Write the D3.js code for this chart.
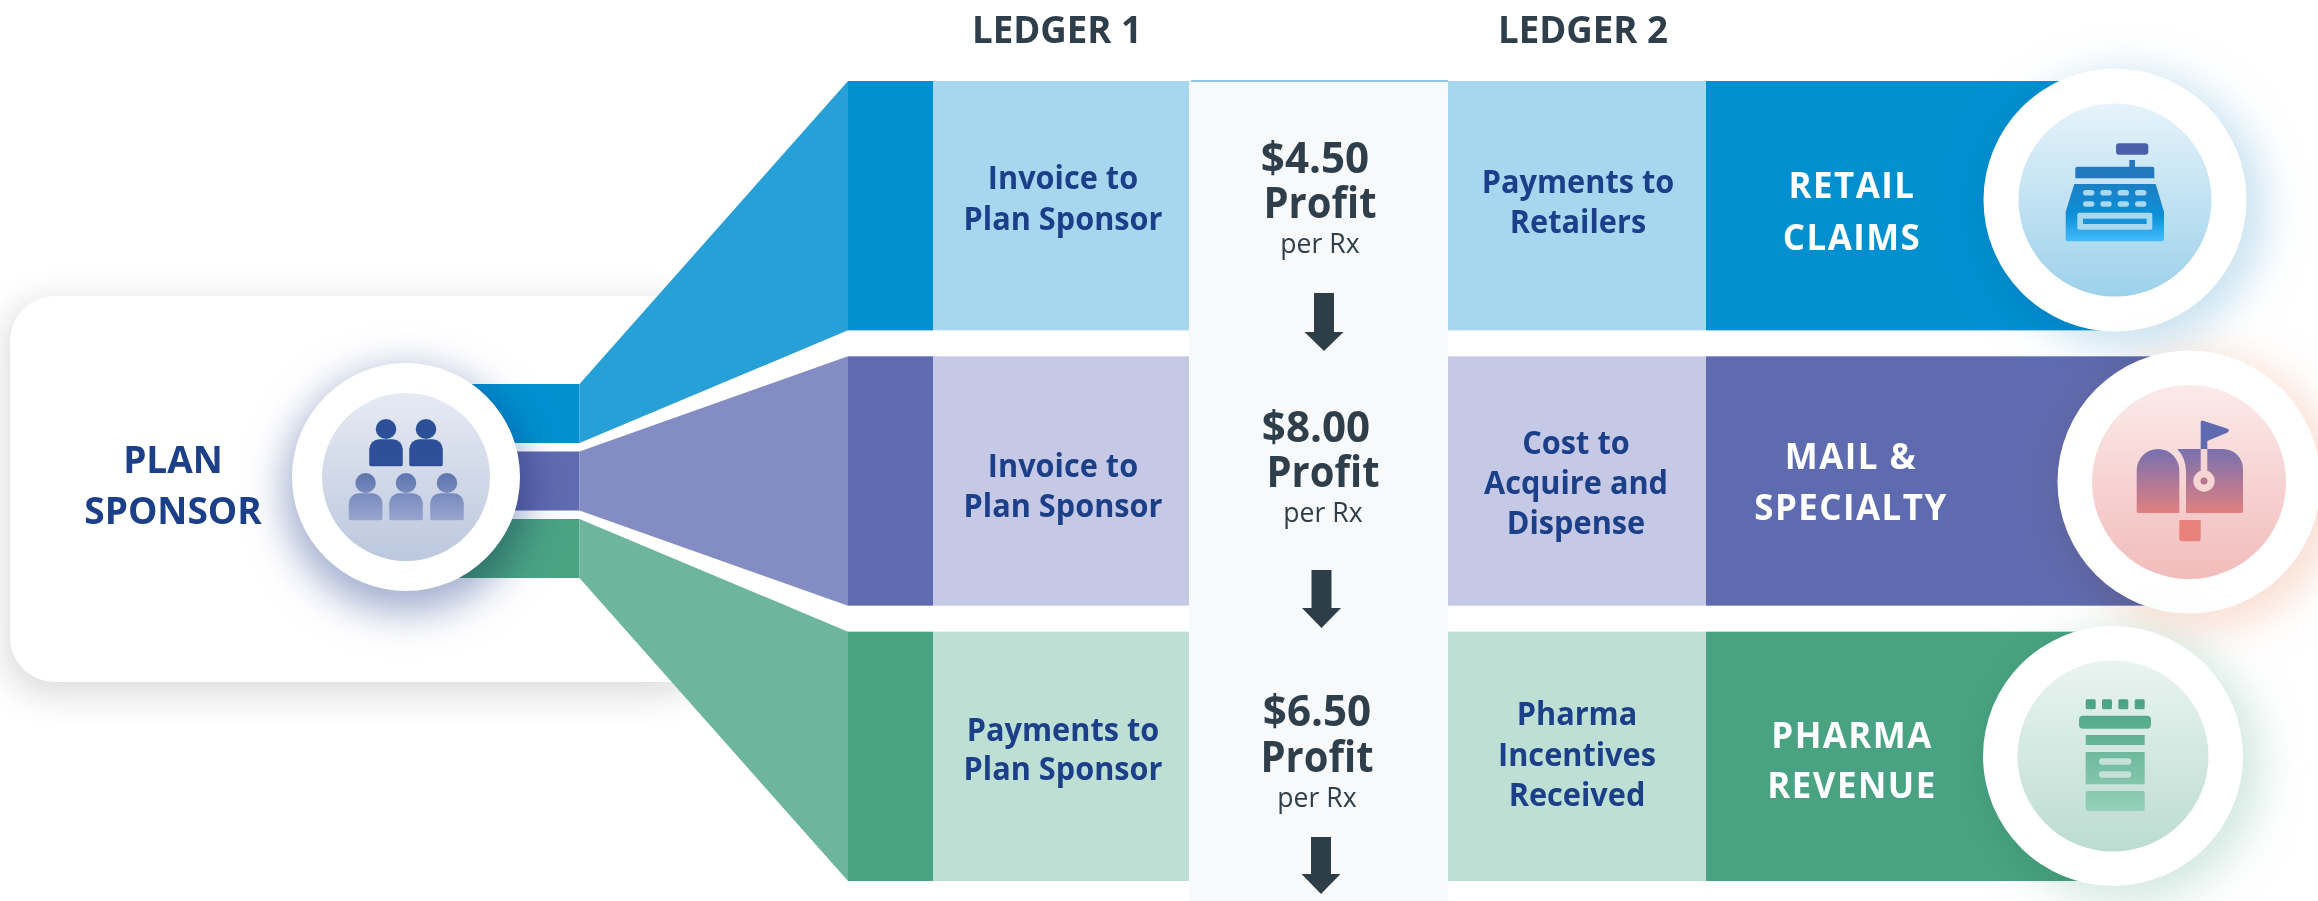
<!DOCTYPE html>
<html>
<head>
<meta charset="utf-8">
<script src="https://cdn.jsdelivr.net/npm/d3@7"></script>
<style>
  html, body { margin: 0; padding: 0; background: #fff; overflow: hidden; }
  svg { display: block; }
  text { font-family: "Open Sans", sans-serif; text-anchor: middle; }
  .head { font-size: 37px; font-weight: 700; fill: #2e3e4a; }
  .cell { font-size: 33px; font-weight: 700; fill: #1c3f8a; }
  .big { font-size: 43px; font-weight: 700; fill: #2e3e4a; }
  .small { font-size: 28px; font-weight: 400; fill: #2e3e4a; }
  .claim { font-size: 36px; font-weight: 700; fill: #fff; letter-spacing: 1.5px; }
  .sponsor { font-size: 37px; font-weight: 700; fill: #1c3f8a; }
  .glow { mix-blend-mode: multiply; }
</style>
</head>
<body>
<div id="chart"></div>
<script>
const rows = ["retail", "mail", "pharma"];
const headers = ["LEDGER 1", "LEDGER 2"];
const sponsorLabel = ["PLAN", "SPONSOR"];
const ledger1 = [
    ["Invoice to", "Plan Sponsor"],
    ["Invoice to", "Plan Sponsor"],
    ["Payments to", "Plan Sponsor"]
];
const ledger2 = [
    ["Payments to", "Retailers"],
    ["Cost to", "Acquire and", "Dispense"],
    ["Pharma", "Incentives", "Received"]
];
const claims = [
    ["RETAIL", "CLAIMS"],
    ["MAIL &", "SPECIALTY"],
    ["PHARMA", "REVENUE"]
];
const profit = [4.5, 8, 6.5];

const darkColors = ["#0090d0", "#5f6bb0", "#49a383"];
const lightColors = ["#a6d7ef", "#c5c9e5", "#bddfd4"];
const fanColors = ["#279fd7", "#838cc3", "#6db59c"];
const shadowColors = ["#b5d8ec", "#f8d3c2", "#c2e0d5"];
const discColors = [["#e6f3fa", "#9dd1eb"], ["#fbeaea", "#f2bcbb"], ["#e9f4f0", "#bcdcd1"]];

const width = 2318;
const height = 901;

// x edges of the ledger columns
const x = { fan: 579.5, dark: 848, light: 933, col: 1189, right: 1448, claim: 1706 };
const discs = [
    { cx: 2115, cy: 200, r: 131.5, inner: 96.5 },
    { cx: 2189, cy: 482, r: 131.5, inner: 97 },
    { cx: 2113, cy: 756, r: 130, inner: 95.5 }
];
const sponsorDisc = { cx: 406, cy: 477, r: 114, inner: 84 };

// baselines per row
const ledger1Pos = [{ x: 1063, y: [189, 230] }, { x: 1063, y: [477, 517] }, { x: 1063, y: [741, 780] }];
const ledger2Pos = [{ x: 1578, y: [193, 233] }, { x: 1576, y: [454, 494, 534] }, { x: 1577, y: [725, 766, 806] }];
const claimPos = [{ x: 1852, y: [198, 250] }, { x: 1851, y: [469, 520] }, { x: 1852, y: [748, 798] }];
const profitPos = [
    { x: 1315, px: 1320, y: [173, 218, 253], arrow: { x: 1324, top: 293, neck: 332, tip: 351 } },
    { x: 1316, px: 1323, y: [442, 487, 522], arrow: { x: 1321.5, top: 570, neck: 608, tip: 628 } },
    { x: 1317, px: 1317, y: [726, 772, 807], arrow: { x: 1321, top: 837, neck: 874, tip: 894 } }
];

const yBand = d3.scaleBand().domain(rows).range([81, 881]).paddingInner(0.0944);
const yStub = d3.scaleBand().domain(rows).range([384, 578]).paddingInner(0.126);
const polygon = d3.line().curve(d3.curveLinearClosed);

const svg = d3.select("#chart").append("svg").attr("width", width).attr("height", height);
const defs = svg.append("defs");

function addBlur(id, sd) {
    defs.append("filter").attr("id", id)
        .attr("x", "-40%").attr("y", "-40%").attr("width", "180%").attr("height", "180%")
        .append("feGaussianBlur").attr("stdDeviation", sd);
}
addBlur("panelBlur", 17);
addBlur("discBlur", 19);

function addGradient(id, y1, y2, stops) {
    const g = defs.append("linearGradient").attr("id", id)
        .attr("gradientUnits", "userSpaceOnUse")
        .attr("x1", 0).attr("x2", 0).attr("y1", y1).attr("y2", y2);
    stops.forEach(s => g.append("stop").attr("offset", s[0]).attr("stop-color", s[1]));
    return `url(#${id})`;
}

function addText(parent, cls, tx, ty, str, sx) {
    parent.append("text").attr("class", cls)
        .attr("transform", `translate(${tx},${ty}) scale(${sx},1)`)
        .text(str);
}

// plan sponsor panel, the white runs on under the fans so the gaps stay clean
svg.append("rect").attr("x", 4).attr("y", 300).attr("width", 700).attr("height", 396).attr("rx", 45)
    .attr("fill", "#000").attr("opacity", 0.13).attr("filter", "url(#panelBlur)");
svg.append("rect").attr("x", 10).attr("y", 296).attr("width", 790).attr("height", 386).attr("rx", 45)
    .attr("fill", "#fff");

// stubs and fans
rows.forEach((r, i) => {
    svg.append("rect").attr("x", sponsorDisc.cx).attr("y", yStub(r))
        .attr("width", x.fan - sponsorDisc.cx).attr("height", yStub.bandwidth())
        .attr("fill", darkColors[i]);
    svg.append("path").attr("fill", fanColors[i]).attr("d", polygon([
        [x.fan, yStub(r)],
        [x.dark, yBand(r)],
        [x.dark, yBand(r) + yBand.bandwidth()],
        [x.fan, yStub(r) + yStub.bandwidth()]
    ]));
});

// ledger bands
rows.forEach((r, i) => {
    const y = yBand(r), h = yBand.bandwidth();
    svg.append("rect").attr("x", x.dark).attr("y", y).attr("width", x.light - x.dark).attr("height", h).attr("fill", darkColors[i]);
    svg.append("rect").attr("x", x.light).attr("y", y).attr("width", x.col - x.light).attr("height", h).attr("fill", lightColors[i]);
    svg.append("rect").attr("x", x.right).attr("y", y).attr("width", x.claim - x.right).attr("height", h).attr("fill", lightColors[i]);
    svg.append("rect").attr("x", x.claim).attr("y", y).attr("width", discs[i].cx - x.claim).attr("height", h).attr("fill", darkColors[i]);
});

// profit column
svg.append("rect").attr("x", x.col).attr("y", 81).attr("width", x.right - x.col).attr("height", height - 81).attr("fill", "#f8f9fb");
svg.append("rect").attr("x", x.col + 2).attr("y", 80.5).attr("width", x.right - x.col - 2).attr("height", 1).attr("fill", "#2a90c8");

profit.forEach((v, i) => {
    const p = profitPos[i];
    addText(svg, "big", p.x, p.y[0], d3.format("$.2f")(v), 0.98);
    addText(svg, "big", p.px, p.y[1], "Profit", 0.93);
    addText(svg, "small", p.px, p.y[2], "per Rx", 0.95);
    const a = p.arrow;
    svg.append("path").attr("fill", "#2e3e49").attr("d", polygon([
        [a.x - 10, a.top], [a.x + 10, a.top], [a.x + 10, a.neck], [a.x + 19.5, a.neck],
        [a.x, a.tip], [a.x - 19.5, a.neck], [a.x - 10, a.neck]
    ]));
});

// headers and ledger text
addText(svg, "head", 1057, 43, headers[0], 0.99);
addText(svg, "head", 1583, 43, headers[1], 0.99);
ledger1.forEach((lines, i) => lines.forEach((t, j) => addText(svg, "cell", ledger1Pos[i].x, ledger1Pos[i].y[j], t, 0.93)));
ledger2.forEach((lines, i) => lines.forEach((t, j) => addText(svg, "cell", ledger2Pos[i].x, ledger2Pos[i].y[j], t, 0.93)));
claims.forEach((lines, i) => lines.forEach((t, j) => addText(svg, "claim", claimPos[i].x, claimPos[i].y[j], t, 0.97)));
addText(svg, "sponsor", 173, 473, sponsorLabel[0], 1);
addText(svg, "sponsor", 173, 524, sponsorLabel[1], 1);

// discs with soft shadows
function addDisc(d, shadow, opacity, dx, dy, top, bottom, id) {
    svg.append("circle").attr("class", "glow").attr("cx", d.cx + dx).attr("cy", d.cy + dy).attr("r", d.r + 8)
        .attr("fill", shadow).attr("opacity", opacity).attr("filter", "url(#discBlur)");
    svg.append("circle").attr("cx", d.cx).attr("cy", d.cy).attr("r", d.r).attr("fill", "#fff");
    svg.append("circle").attr("cx", d.cx).attr("cy", d.cy).attr("r", d.inner)
        .attr("fill", addGradient(id, d.cy - d.inner, d.cy + d.inner, [[0, top], [1, bottom]]));
}
addDisc(sponsorDisc, "#8494c0", 0.75, 0, 14, "#e6eaf3", "#bcc8de", "discSponsor");
discs.forEach((d, i) => addDisc(d, shadowColors[i], 0.7, 12, 10, discColors[i][0], discColors[i][1], "disc" + i));

// plan sponsor icon
const people = addGradient("peopleFill", 420, 521, [[0, "#2d4f98"], [0.46, "#2f5098"], [0.53, "#5f75b0"], [1, "#9aa6d0"]]);
const peopleIcon = svg.append("g").attr("fill", people);
[[386, 429], [426, 429], [365.6, 483], [406, 483], [447, 483]].forEach(c => {
    peopleIcon.append("ellipse").attr("cx", c[0]).attr("cy", c[1]).attr("rx", 10.3).attr("ry", 10);
    const bx = c[0] - 16.8, by = c[1] + 10.3;
    peopleIcon.append("path").attr("d",
        `M${bx} ${by + 10}a10 10 0 0 1 10 -10h13.6a10 10 0 0 1 10 10v15a2 2 0 0 1 -2 2h-29.6a2 2 0 0 1 -2 -2z`);
});

// cash register
const regFill = addGradient("regFill", 184, 241, [[0, "#1d7fc3"], [0.55, "#0c90d8"], [1, "#42bcfc"]]);
const reg = svg.append("g");
reg.append("rect").attr("x", 2116).attr("y", 143.3).attr("width", 32.3).attr("height", 11.4).attr("rx", 3).attr("fill", "#4a60aa");
reg.append("rect").attr("x", 2129.3).attr("y", 160).attr("width", 5.7).attr("height", 7).attr("fill", "#2a75bd");
reg.append("path").attr("fill", "#2478be").attr("d", "M2075.3 178.3V169a2.3 2.3 0 0 1 2.3 -2.3h74.4a2.3 2.3 0 0 1 2.3 2.3v9.3z");
reg.append("path").attr("fill", regFill).attr("d", "M2074.3 184H2155.7L2164 211.7V239.3a2 2 0 0 1 -2 2H2067.7a2 2 0 0 1 -2 -2V211.7z");
[192.7, 204].forEach(ky => [2088.7, 2106, 2123.3, 2140.7].forEach(kx => {
    reg.append("rect").attr("x", kx - 5.7).attr("y", ky - 2.8).attr("width", 11.4).attr("height", 5.6).attr("rx", 2.8).attr("fill", "#a9d8ef");
}));
reg.append("rect").attr("x", 2077.3).attr("y", 212.7).attr("width", 75).attr("height", 17).attr("rx", 2).attr("fill", "#a9d8ef");
reg.append("rect").attr("x", 2083).attr("y", 218.7).attr("width", 63.7).attr("height", 5.3).attr("fill", "#1594da");

// mailbox
const mailFill = addGradient("mailFill", 449, 513, [[0, "#7770b0"], [1, "#e08080"]]);
const mail = svg.append("g");
mail.append("path").attr("fill", mailFill).attr("d", "M2136.7 470.3a21.3 21.3 0 0 1 42.6 0V513H2139a2.3 2.3 0 0 1 -2.3 -2.3z");
mail.append("path").attr("fill", mailFill).attr("d", "M2177.3 449H2223a20 20 0 0 1 20 20V510.7a2.3 2.3 0 0 1 -2.3 2.3H2186V472Q2186 458 2177.3 449z");
mail.append("rect").attr("x", 2200.7).attr("y", 449).attr("width", 6.6).attr("height", 24).attr("fill", "#f6d5d3");
mail.append("path").attr("fill", "#5f6bb0").attr("d", "M2200.7 449V422.5q0 -2.5 2.5 -1.7L2227 428.5q4 2 0 4.2L2207.3 441V449z");
mail.append("circle").attr("cx", 2204).attr("cy", 481).attr("r", 10.7).attr("fill", "#f6d5d3");
mail.append("circle").attr("cx", 2204).attr("cy", 481).attr("r", 3.5).attr("fill", "#b87590");
mail.append("path").attr("fill", "#e9817b").attr("d", "M2179.3 520H2200.7V539a2.3 2.3 0 0 1 -2.3 2.3H2181.6a2.3 2.3 0 0 1 -2.3 -2.3z");

// pill bottle
const bottleFill = addGradient("bottleFill", 699, 811, [[0, "#4aa383"], [1, "#95d0bb"]]);
const bottle = svg.append("g").attr("fill", bottleFill);
[2085.7, 2102, 2118.3, 2134.7].forEach(bx => bottle.append("rect").attr("x", bx).attr("y", 699.3).attr("width", 10).attr("height", 10).attr("rx", 1.5));
bottle.append("rect").attr("x", 2079).attr("y", 715.7).attr("width", 72).attr("height", 13).attr("rx", 4);
bottle.append("rect").attr("x", 2085.7).attr("y", 735).attr("width", 59).attr("height", 10);
bottle.append("rect").attr("x", 2085.7).attr("y", 752).attr("width", 59).attr("height", 32.3);
bottle.append("rect").attr("x", 2085.7).attr("y", 791).attr("width", 59).attr("height", 20).attr("rx", 2);
[758.3, 771.3].forEach(ly => svg.append("rect").attr("x", 2099).attr("y", ly).attr("width", 32.3).attr("height", 6.4).attr("rx", 3.2).attr("fill", "#c5e2d8"));
</script>
</body>
</html>
